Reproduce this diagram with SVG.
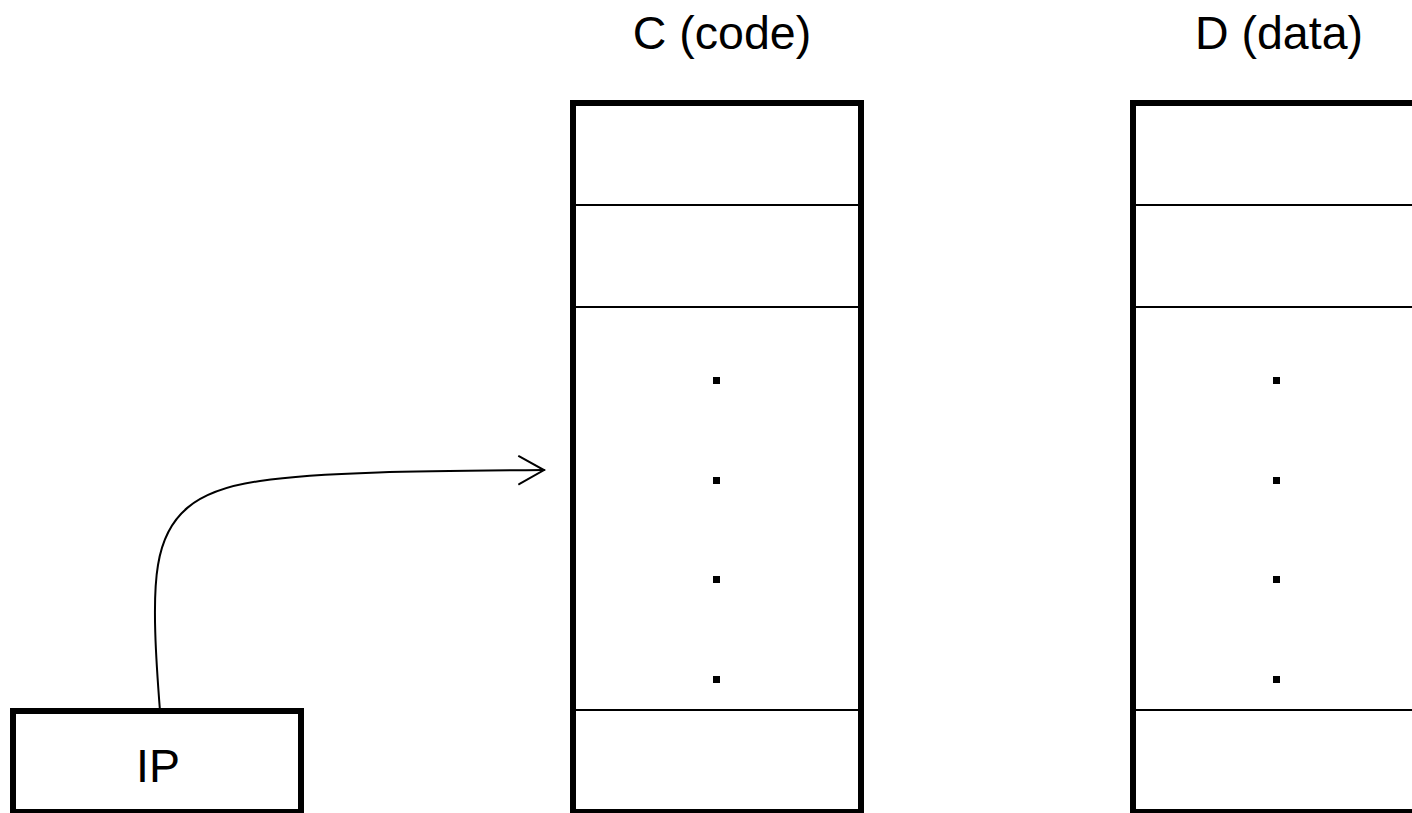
<svg xmlns="http://www.w3.org/2000/svg" width="1412" height="813" viewBox="0 0 1412 813">
  <style>
    .frame { fill: #ffffff; stroke: #000000; stroke-width: 6; }
    .cell { stroke: #000000; stroke-width: 2; fill: none; }
    .dot { fill: #000000; }
    .label { font-family: "Liberation Sans", Arial, Helvetica, sans-serif; font-size: 46.5px; fill: #000000; text-anchor: middle; }
    .link { fill: none; stroke: #000000; stroke-width: 2; stroke-linecap: round; }
  </style>
  <defs>
    <marker id="open-arrow" markerUnits="userSpaceOnUse" markerWidth="40" markerHeight="40" viewBox="-30 -20 40 40" refX="0" refY="0" orient="auto">
      <path d="M-25,-14 L0,0 L-25,14" fill="none" stroke="#000000" stroke-width="2" stroke-linecap="round" stroke-linejoin="miter"/>
    </marker>
  </defs>

  <rect width="1412" height="813" fill="#ffffff"/>

  <!-- code segment -->
  <g id="code">
    <text class="label" x="722" y="49">C (code)</text>
    <rect class="frame" x="573" y="103" width="288" height="709"/>
    <line class="cell" x1="576" y1="205" x2="858" y2="205"/>
    <line class="cell" x1="576" y1="307" x2="858" y2="307"/>
    <line class="cell" x1="576" y1="710" x2="858" y2="710"/>
    <rect class="dot" x="713" y="377" width="7" height="7"/>
    <rect class="dot" x="713" y="477" width="7" height="7"/>
    <rect class="dot" x="713" y="576" width="7" height="7"/>
    <rect class="dot" x="713" y="676" width="7" height="7"/>
  </g>

  <!-- data segment -->
  <g id="data">
    <text class="label" x="1279" y="49">D (data)</text>
    <rect class="frame" x="1133" y="103" width="288" height="709"/>
    <line class="cell" x1="1136" y1="205" x2="1418" y2="205"/>
    <line class="cell" x1="1136" y1="307" x2="1418" y2="307"/>
    <line class="cell" x1="1136" y1="710" x2="1418" y2="710"/>
    <rect class="dot" x="1273" y="377" width="7" height="7"/>
    <rect class="dot" x="1273" y="477" width="7" height="7"/>
    <rect class="dot" x="1273" y="576" width="7" height="7"/>
    <rect class="dot" x="1273" y="676" width="7" height="7"/>
  </g>

  <!-- instruction pointer -->
  <g id="ip">
    <rect class="frame" x="13" y="711" width="288" height="101"/>
    <text class="label" x="158" y="782">IP</text>
  </g>

  <!-- pointer into the code segment -->
  <g id="connectors">
    <path class="link" d="M160,711 C156,660 152,600 158,565 C166,515 195,490 260,481 C320,472 420,471 544,470" marker-end="url(#open-arrow)"/>
  </g>
</svg>
